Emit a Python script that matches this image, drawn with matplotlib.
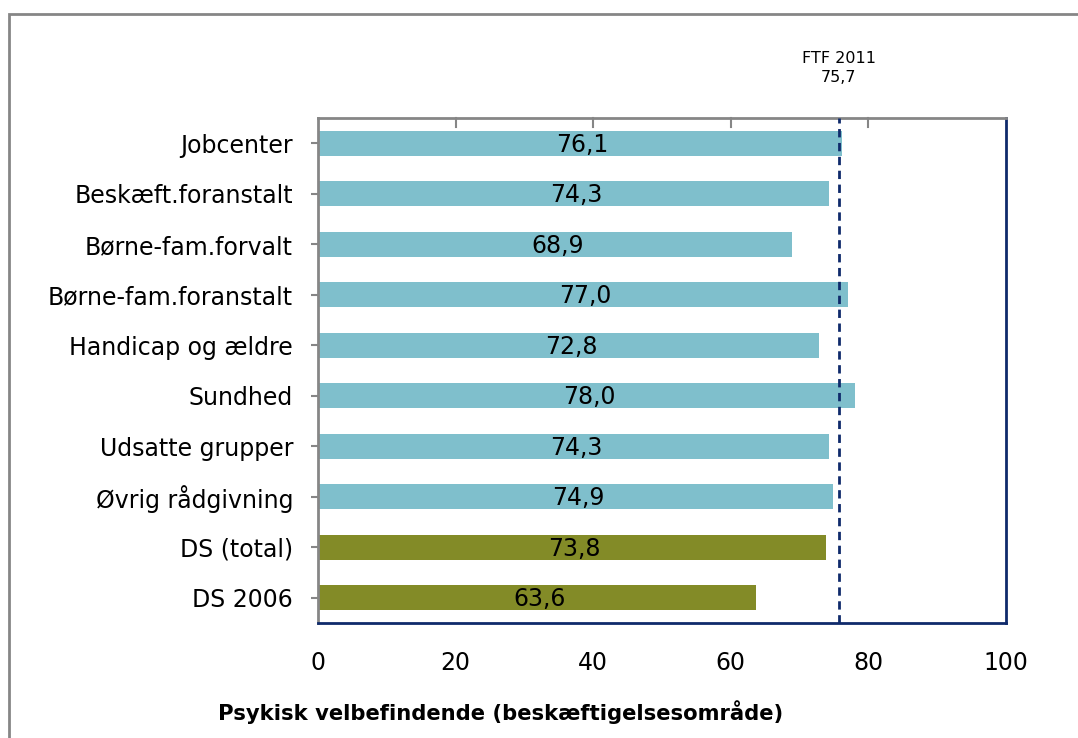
import numpy as np
import matplotlib.pyplot as plt
from matplotlib.patches import Rectangle

categories = ['Jobcenter', 'Beskæft.foranstalt', 'Børne-fam.forvalt', 'Børne-fam.foranstalt',
              'Handicap og ældre', 'Sundhed', 'Udsatte grupper', 'Øvrig rådgivning',
              'DS (total)', 'DS 2006']
values = [76.1, 74.3, 68.9, 77.0, 72.8, 78.0, 74.3, 74.9, 73.8, 63.6]
bar_colors = ['#7fbfcc'] * 8 + ['#838b27'] * 2
ftf_value = 75.7
ftf_label = 'FTF 2011'

navy = '#0f2a6b'
gray = '#868686'

fig = plt.figure(figsize=(10.78, 7.38), dpi=100)
fig.patches.append(Rectangle((9 / 1078, -0.05), 1.2, 1 - 14 / 738 + 0.05,
                             transform=fig.transFigure, fill=False,
                             edgecolor=gray, linewidth=2))

ax = fig.add_axes([318 / 1078, 115 / 738, 688 / 1078, 505 / 738])
y = np.arange(len(categories))
ax.barh(y, values, height=0.49, color=bar_colors, zorder=2)

for yi, v in zip(y, values):
    ax.text(v / 2 + 0.4, yi + 0.03, f'{v:.1f}'.replace('.', ','), ha='center', va='center',
            fontsize=17, color='black', zorder=3)

ax.axvline(ftf_value, color=navy, linestyle=(0, (3, 2)), linewidth=2, zorder=4)
ax.text(ftf_value, 1.065, f'{ftf_label}\n{ftf_value:.1f}'.replace('.', ','),
        transform=ax.get_xaxis_transform(), ha='center', va='bottom', fontsize=11.5,
        linespacing=1.35)

ax.set_xlim(0, 100)
ax.set_ylim(len(categories) - 0.5, -0.5)
ax.set_yticks(y)
ax.set_yticklabels(categories, fontsize=17)
ax.set_xticks(np.arange(0, 101, 20))
ax.set_xticklabels([str(t) for t in range(0, 101, 20)], fontsize=17)
ax.tick_params(axis='x', length=0, pad=20)
ax.tick_params(axis='y', length=5, width=1.5, color=gray, pad=13)

for t in [20, 40, 60, 80]:
    ax.plot([t, t], [-0.5, -0.33], color=gray, linewidth=1.5, clip_on=False, zorder=5)

ax.spines['left'].set_color(gray)
ax.spines['top'].set_color(gray)
ax.spines['left'].set_linewidth(2)
ax.spines['top'].set_linewidth(2)
ax.spines['bottom'].set_color(navy)
ax.spines['right'].set_color(navy)
ax.spines['bottom'].set_linewidth(2)
ax.spines['right'].set_linewidth(2)

fig.text(501 / 1078, 1 - 712 / 738, 'Psykisk velbefindende (beskæftigelsesområde)',
         ha='center', va='center', fontsize=15.2, fontweight='bold')

plt.savefig('out.png', dpi=100)
